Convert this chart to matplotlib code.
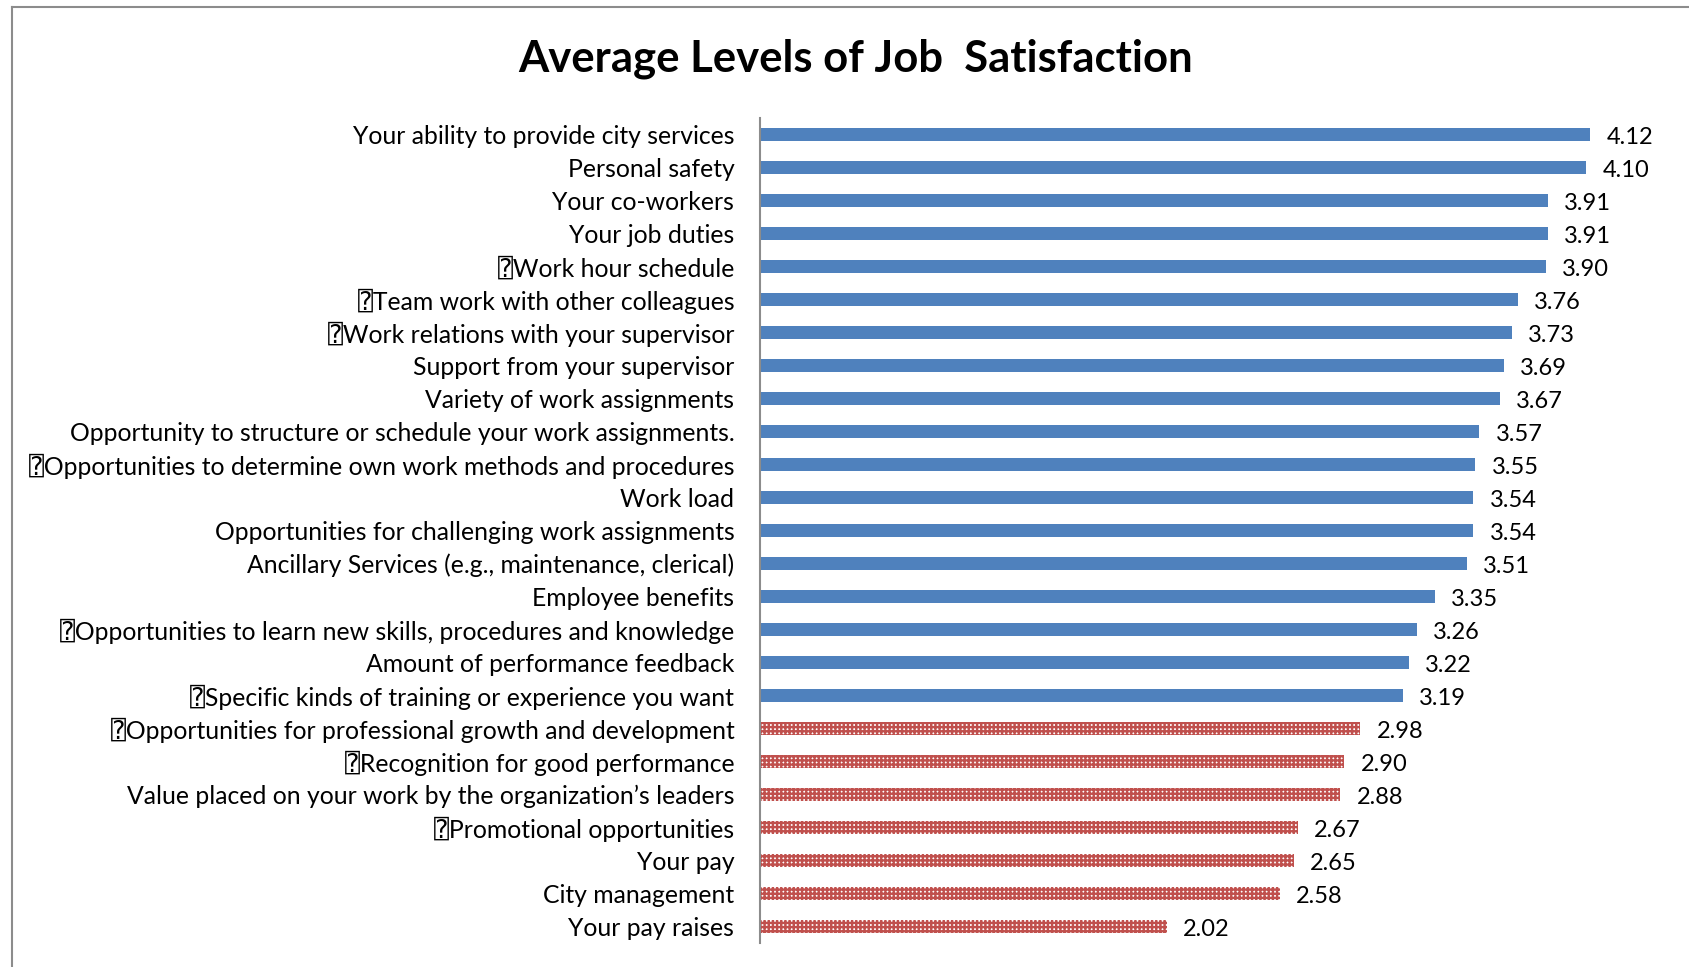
import matplotlib
matplotlib.use("Agg")
import matplotlib.pyplot as plt

# Survey items (top to bottom) and their mean satisfaction scores
items = [
    "Your ability to provide city services",
    "Personal safety",
    "Your co-workers",
    "Your job duties",
    "\u2370Work hour schedule",
    "\u2370Team work with other colleagues",
    "\u2370Work relations with your supervisor",
    "Support from your supervisor",
    "Variety of work assignments",
    "Opportunity to structure or schedule your work assignments.",
    "\u2370Opportunities to determine own work methods and procedures",
    "Work load",
    "Opportunities for challenging work assignments",
    "Ancillary Services (e.g., maintenance, clerical)",
    "Employee benefits",
    "\u2370Opportunities to learn new skills, procedures and knowledge",
    "Amount of performance feedback",
    "\u2370Specific kinds of training or experience you want",
    "\u2370Opportunities for professional growth and development",
    "\u2370Recognition for good performance",
    "Value placed on your work by the organization\u2019s leaders",
    "\u2370Promotional opportunities",
    "Your pay",
    "City management",
    "Your pay raises",
]
scores = [4.12, 4.10, 3.91, 3.91, 3.90, 3.76, 3.73, 3.69, 3.67, 3.57, 3.55,
          3.54, 3.54, 3.51, 3.35, 3.26, 3.22, 3.19, 2.98, 2.90, 2.88, 2.67,
          2.65, 2.58, 2.02]
threshold = 3.0  # scores below this are highlighted

BLUE = "#4F81BD"
RED = "#C0504D"
FONT = ["Lato", "DejaVu Sans", "DejaVu Sans Mono"]

plt.rcParams["hatch.linewidth"] = 1.7

W, H, DPI = 1690, 967, 100
fig = plt.figure(figsize=(W / DPI, H / DPI), dpi=DPI)

# outer chart frame (left and top edges)
fig.add_artist(plt.Line2D([12.5 / W, 12.5 / W], [0, 1 - 7 / H],
                          transform=fig.transFigure, color="#8c8c8c", lw=1.5))
fig.add_artist(plt.Line2D([12.5 / W, 1], [1 - 7 / H, 1 - 7 / H],
                          transform=fig.transFigure, color="#8c8c8c", lw=1.5))

x0, y_top, y_bot = 760, 118, 943
ax = fig.add_axes([x0 / W, 1 - y_bot / H, 1 - x0 / W, (y_bot - y_top) / H])
ax.set_xlim(0, (W - x0) / 201.5)

ypos = list(range(len(items)))
for y, v in zip(ypos, scores):
    if v >= threshold:
        ax.barh(y, v, height=0.40, color=BLUE, linewidth=0)
    else:
        ax.barh(y, v, height=0.40, facecolor="white", edgecolor=RED,
                hatch="++++", linewidth=0)
    ax.text(v + 0.08, y + 0.03, f"{v:.2f}", va="center_baseline", ha="left",
            fontsize=17, family=FONT, color="black")

ax.set_ylim(len(items) - 0.5, -0.5)
ax.set_yticks(ypos)
ax.set_yticklabels(items, fontsize=17.8, family=FONT)
ax.tick_params(axis="y", length=0, pad=18.5)
for lbl in ax.get_yticklabels():
    lbl.set_verticalalignment("center_baseline")
ax.set_xticks([])
for s in ("top", "right", "bottom"):
    ax.spines[s].set_visible(False)
ax.spines["left"].set_color("#8c8c8c")
ax.spines["left"].set_linewidth(1.5)

fig.text(856 / W, 1 - 59 / H, "Average Levels of Job  Satisfaction",
         ha="center", va="center", fontsize=31.4, fontweight="bold", family=FONT)

fig.savefig("out.png", dpi=DPI, facecolor="white")
